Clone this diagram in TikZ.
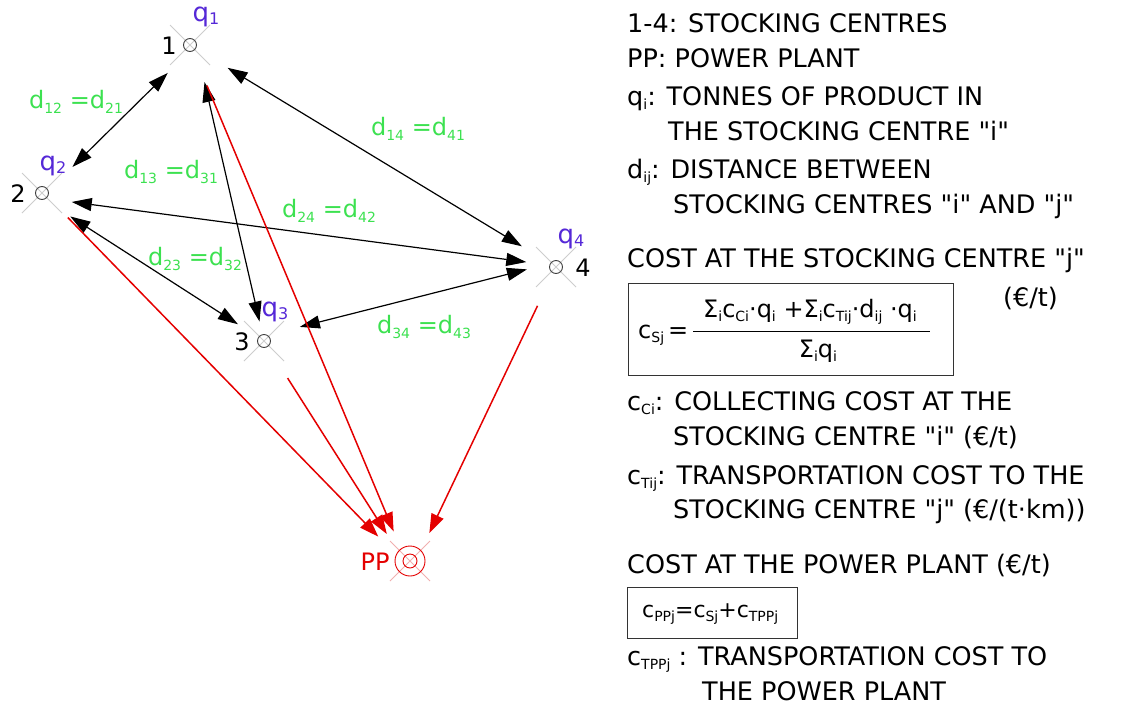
\documentclass[tikz,border=0pt]{standalone}
\usepackage{fontspec}
\setmainfont{DejaVu Sans}
\newfontfamily\plainq{DejaVu Sans}
\usetikzlibrary{arrows.meta,calc}
\definecolor{lgreen}{RGB}{60,225,80}
\definecolor{qblue}{RGB}{85,40,215}
\definecolor{xgray}{RGB}{205,205,205}
\definecolor{xpink}{RGB}{240,175,175}
\definecolor{pred}{RGB}{228,0,0}
\newcommand\lo[1]{\raisebox{-0.35ex}{\fontsize{14}{14}\selectfont #1}}
\newcommand\loq[1]{\raisebox{-0.2ex}{\fontsize{16}{16}\selectfont #1}}
\newcommand\dq{{\plainq\symbol{34}}}
\begin{document}
\begin{tikzpicture}[x=1pt,y=-1pt,
  every node/.style={font=\fontsize{23}{26}\selectfont, inner sep=0pt},
  centre/.style={circle, draw=black!75, line width=0.9pt, minimum size=13pt},
  ppouter/.style={circle, draw=pred, line width=0.9pt, minimum size=30pt},
  ppinner/.style={circle, draw=pred, line width=0.9pt, minimum size=14pt},
  xmark/.style={draw=xgray, line width=0.9pt},
  pmark/.style={draw=xpink, line width=0.9pt},
  numlbl/.style={text=black, font=\fontsize{24}{26}\selectfont},
  qlbl/.style={text=qblue, font=\fontsize{26}{28}\selectfont},
  dlbl/.style={text=lgreen, font=\fontsize{24}{26}\selectfont},
  biarrow/.style={draw=black, line width=1.2pt, {Triangle[length=20pt,width=13pt]}-{Triangle[length=20pt,width=13pt]}},
  redarrow/.style={draw=pred, line width=1.5pt, -{Triangle[length=19pt,width=13pt]}},
  txt/.style={anchor=base west, text=black, font=\fontsize{25.5}{28}\selectfont},
  boxline/.style={draw=black!80, line width=1pt}
]
\useasboundingbox (0,0) rectangle (1121,715);

% ---- stocking centres ----
\coordinate (c1) at (190,45);
\coordinate (c2) at (42,193);
\coordinate (c3) at (264,341);
\coordinate (c4) at (556,267);
\coordinate (cpp) at (410,561);

\foreach \c in {c1,c2,c3,c4}{
  \draw[xmark] ($(\c)+(-20,-20)$) -- ($(\c)+(20,20)$);
  \draw[xmark] ($(\c)+(-20,20)$) -- ($(\c)+(20,-20)$);
}
\draw[pmark] ($(cpp)+(-20,-20)$) -- ($(cpp)+(20,20)$);
\draw[pmark] ($(cpp)+(-20,20)$) -- ($(cpp)+(20,-20)$);

\node[centre] (n1) at (c1) {};
\node[centre] (n2) at (c2) {};
\node[centre] (n3) at (c3) {};
\node[centre] (n4) at (c4) {};
\node[ppouter] (pp) at (cpp) {};
\node[ppinner] (ppi) at (cpp) {};

\node[numlbl] (l1) at (169,46) {1};
\node[numlbl] (l2) at (18,194) {2};
\node[numlbl] (l3) at (242,342) {3};
\node[numlbl] (l4) at (583,268) {4};
\node[text=pred, font=\fontsize{24}{26}\selectfont] (lpp) at (375,562) {PP};

\node[qlbl] (q1) at (206,17) {q\loq{1}};
\node[qlbl] (q2) at (53,166) {q\loq{2}};
\node[qlbl] (q3) at (275,312) {q\loq{3}};
\node[qlbl] (q4) at (571,239) {q\loq{4}};

% ---- distances ----
\node[dlbl] (d12) at (76,102) {d\lo{12} =d\lo{21}};
\node[dlbl] (d13) at (171,172) {d\lo{13} =d\lo{31}};
\node[dlbl] (d14) at (418,129) {d\lo{14} =d\lo{41}};
\node[dlbl] (d24) at (329,211) {d\lo{24} =d\lo{42}};
\node[dlbl] (d23) at (195,259) {d\lo{23} =d\lo{32}};
\node[dlbl] (d34) at (424,327) {d\lo{34} =d\lo{43}};

\draw[biarrow, shorten <=34pt, shorten >=40pt] ($(n1)+(2,4)$) -- ($(n2)+(2,2)$);
\draw[biarrow, shorten <=38pt, shorten >=20pt] ($(n1)+(6,0)$) -- ($(n3)+(0,0)$);
\draw[biarrow, shorten <=37pt, shorten >=33pt] (n1) -- (n4);
\draw[biarrow, shorten <=30pt, shorten >=30pt] ($(n2)+(0,5)$) -- ($(n4)+(0,-1)$);
\draw[biarrow, shorten <=36pt, shorten >=31pt] ($(n2)+(-2,4)$) -- ($(n3)+(0,0)$);
\draw[biarrow, shorten <=37pt, shorten >=30pt] ($(n3)+(0,-5)$) -- ($(n4)+(0,-5)$);

% ---- to power plant ----
\draw[redarrow, shorten <=37pt, shorten >=34pt] ($(n2)+(0,-2)$) -- ($(pp)+(-8,0)$);
\draw[redarrow, shorten <=37pt, shorten >=32pt] (n3) -- ($(pp)+(-6,0)$);
\draw[redarrow, shorten <=37pt, shorten >=32pt] (n1) -- ($(pp)+(-4,0)$);
\draw[redarrow, shorten <=36pt, shorten >=31pt] (n4) -- ($(pp)+(6,0)$);

% ---- legend ----
\node[txt] (t1) at (627,32) {1-4: STOCKING CENTRES};
\node[txt] (t2) at (627,67) {PP: POWER PLANT};
\node[txt] (t3) at (627,105) {q\lo{i}: TONNES OF PRODUCT IN};
\node[txt] (t4) at (668,140) {THE STOCKING CENTRE \dq i\dq};
\node[txt] (t5) at (627,178) {d\lo{ij}: DISTANCE BETWEEN};
\node[txt] (t6) at (673,213) {STOCKING CENTRES \dq i\dq{} AND \dq j\dq};
\node[txt] (t7) at (627,267) {COST AT THE STOCKING CENTRE \dq j\dq};
\node[txt] (t8) at (1003,306) {(€/t)};

\draw[boxline] (628,283) rectangle (953,375);
\node[txt, font=\fontsize{24}{26}\selectfont] (csj) at (638,338) {c\lo{Sj}\,=};
\node[anchor=base, font=\fontsize{24}{26}\selectfont] (numer) at (810,317) {Σ\lo{i}c\lo{Ci}·q\lo{i} +Σ\lo{i}c\lo{Tij}·d\lo{ij} ·q\lo{i}};
\draw[line width=1pt] (693,331) -- (930,331);
\node[anchor=base, font=\fontsize{24}{26}\selectfont] (denom) at (818,357) {Σ\lo{i}q\lo{i}};

\node[txt] (t9) at (627,410) {c\lo{Ci}: COLLECTING COST AT THE};
\node[txt] (t10) at (673,445) {STOCKING CENTRE \dq i\dq{} (€/t)};
\node[txt] (t11) at (627,484) {c\lo{Tij}: TRANSPORTATION COST TO THE};
\node[txt] (t12) at (673,518) {STOCKING CENTRE \dq j\dq{} (€/(t·km))};
\node[txt] (t13) at (627,573) {COST AT THE POWER PLANT (€/t)};

\draw[boxline] (627,587) rectangle (797,638);
\node[txt, font=\fontsize{22}{26}\selectfont] (cppj) at (642,617) {c\lo{PPj}=c\lo{Sj}+c\lo{TPPj}};

\node[txt] (t14) at (627,665) {c\lo{TPPj} : TRANSPORTATION COST TO};
\node[txt] (t15) at (702,700) {THE POWER PLANT};
\end{tikzpicture}
\end{document}
